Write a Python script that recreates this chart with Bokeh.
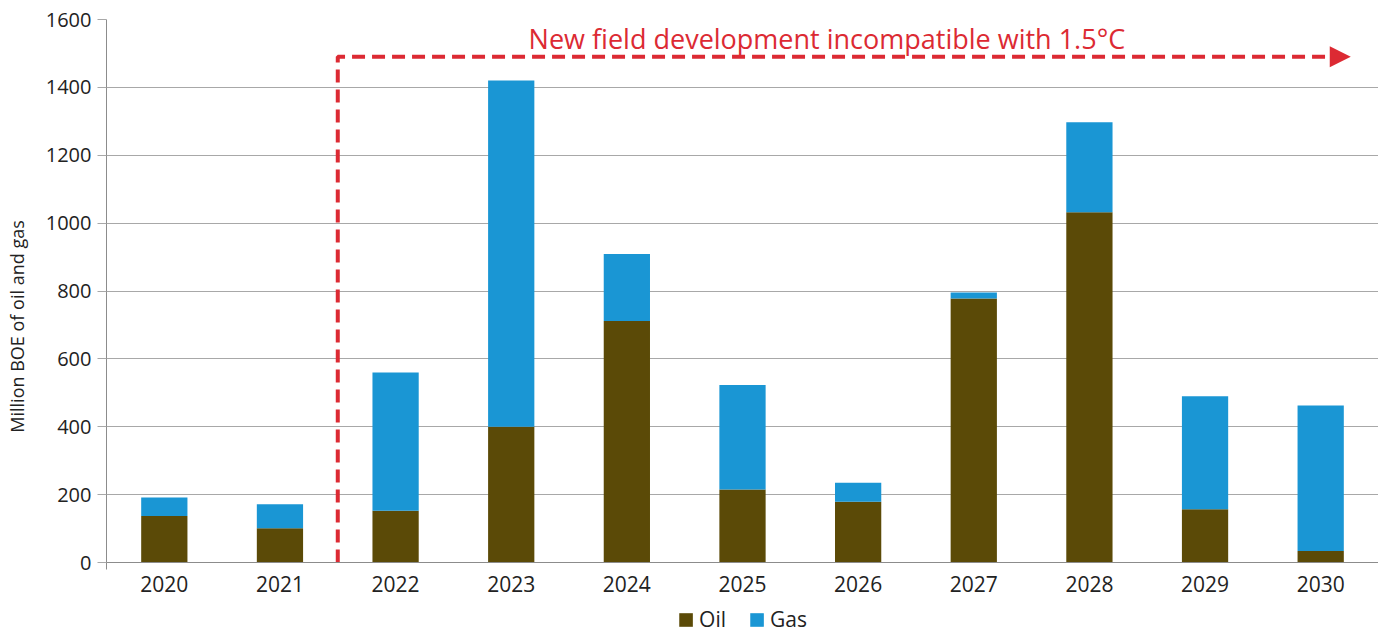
from bokeh.plotting import figure
from bokeh.models import (ColumnDataSource, Range1d, FixedTicker, Legend, LegendItem,
                          Arrow, NormalHead, Label)
from bokeh.embed import file_html
from bokeh.resources import INLINE

years = ["2020", "2021", "2022", "2023", "2024", "2025", "2026", "2027", "2028", "2029", "2030"]
oil = [137, 101, 153, 400, 712, 215, 179, 778, 1032, 157, 34]
gas = [55, 71, 407, 1020, 197, 308, 56, 18, 265, 333, 429]
y_ticks = [0, 200, 400, 600, 800, 1000, 1200, 1400, 1600]
note_text = "New field development incompatible with 1.5°C"
note_level = 1490
first_new_year = "2022"

OIL_C = "#5b4a07"
GAS_C = "#1a96d4"
RED = "#dc2a33"
TXT = "#222222"
GRID = "#a8a8a8"
AXIS = "#8c8c8c"
FONT = "Open Sans"

xs = [i + 0.5 for i in range(len(years))]
src = ColumnDataSource(dict(x=xs, oil=oil, gas=gas))

p = figure(width=1378, height=633, output_backend="svg", toolbar_location=None,
           x_range=Range1d(0, 11.0), y_range=Range1d(-209, 1600),
           min_border_left=106, min_border_right=0, min_border_top=19, min_border_bottom=0)
p.outline_line_color = None
p.background_fill_color = "white"

r = p.vbar_stack(["oil", "gas"], x="x", width=0.4, source=src,
                 color=[OIL_C, GAS_C], line_color=None)

# axes
p.xaxis.fixed_location = 0
p.xaxis.ticker = FixedTicker(ticks=xs)
p.xaxis.major_label_overrides = {x: y for x, y in zip(xs, years)}
p.xaxis.major_tick_line_color = None
p.xaxis.major_tick_out = 0
p.xaxis.minor_tick_line_color = None
p.xaxis.axis_line_color = AXIS
p.xaxis.major_label_text_font = FONT
p.xaxis.major_label_text_font_size = "21px"
p.xaxis.major_label_text_color = TXT
p.xaxis.major_label_standoff = 13

p.yaxis.ticker = FixedTicker(ticks=y_ticks)
p.yaxis.bounds = (-20, 1600)
p.yaxis.axis_line_color = AXIS
p.yaxis.major_tick_line_color = GRID
p.yaxis.major_tick_out = 9
p.yaxis.major_tick_in = 0
p.yaxis.minor_tick_line_color = None
p.yaxis.major_label_text_font = FONT
p.yaxis.major_label_text_font_size = "20px"
p.yaxis.major_label_text_color = TXT
p.yaxis.major_label_standoff = 6
p.yaxis.axis_label = "Million BOE of oil and gas"
p.yaxis.axis_label_text_font = FONT
p.yaxis.axis_label_text_font_size = "18px"
p.yaxis.axis_label_text_font_style = "normal"
p.yaxis.axis_label_text_color = TXT
p.yaxis.axis_label_standoff = 14

p.xgrid.grid_line_color = None
p.ygrid.grid_line_color = GRID
p.ygrid.grid_line_width = 1

# annotation: dashed bracket with arrow
bx = float(years.index(first_new_year))
end_x = 10.59
p.line(x=[bx, bx, end_x], y=[0, note_level, note_level], line_color=RED,
       line_width=4, line_dash="13 7")
p.add_layout(Arrow(end=NormalHead(size=21, fill_color=RED, line_color=RED, line_width=0),
                   x_start=10.5, y_start=note_level, x_end=10.76, y_end=note_level,
                   line_alpha=0))
p.add_layout(Label(x=6.23, y=1544, text=note_text, text_align="center",
                   text_baseline="middle", text_font=FONT, text_font_size="27px",
                   text_color=RED))

legend = Legend(items=[LegendItem(label="Oil", renderers=[r[0]]),
                       LegendItem(label="Gas", renderers=[r[1]])],
                orientation="horizontal", location="bottom_center",
                border_line_color=None, background_fill_alpha=0,
                padding=0, margin=0, spacing=22,
                glyph_width=17, glyph_height=17, label_standoff=5,
                label_text_font=FONT, label_text_font_size="21px",
                label_text_color=TXT)
p.add_layout(legend, "center")

open("out.html", "w").write(file_html(p, INLINE))
